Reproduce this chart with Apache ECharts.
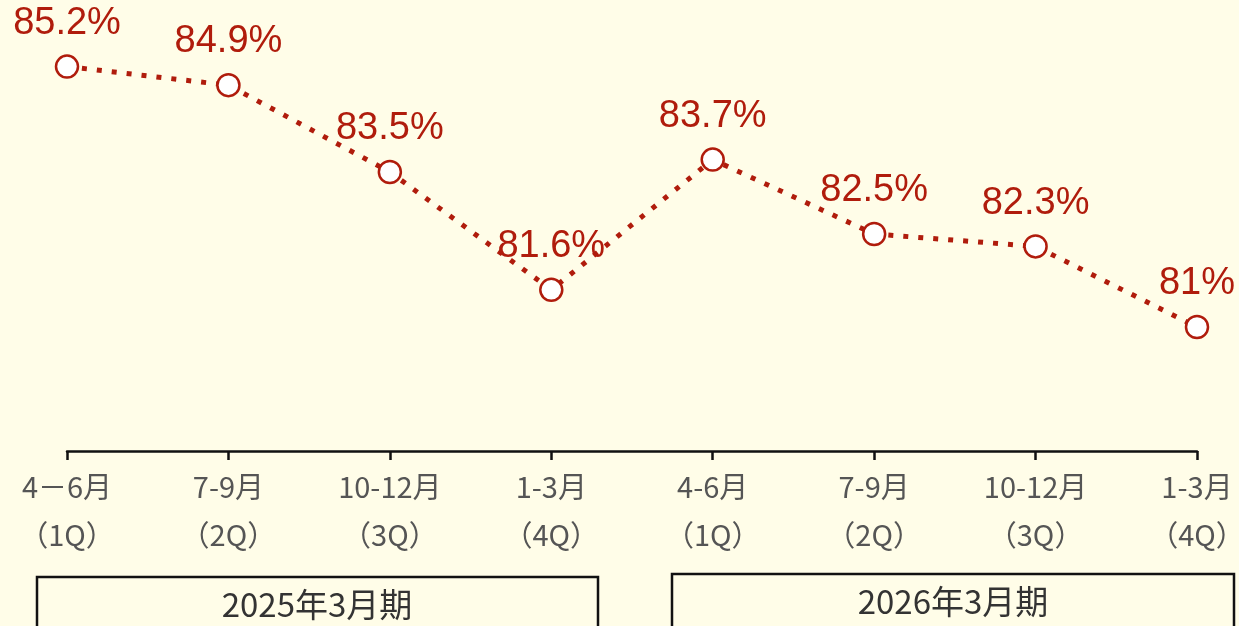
<!DOCTYPE html>
<html><head><meta charset="utf-8">
<script src="https://cdn.jsdelivr.net/npm/echarts@6/dist/echarts.min.js"></script>
<style>html,body{margin:0;padding:0;background:#FFFDE8;}#c{width:1239px;height:626px;}</style>
</head><body><div id="c"></div>
<script>
const categories = ['4－6月\n（1Q）','7-9月\n（2Q）','10-12月\n（3Q）','1-3月\n（4Q）','4-6月\n（1Q）','7-9月\n（2Q）','10-12月\n（3Q）','1-3月\n（4Q）'];
const values = [85.2, 84.9, 83.5, 81.6, 83.7, 82.5, 82.3, 81.0];
const periods = ['2025年3月期', '2026年3月期'];

const chart = echarts.init(document.getElementById('c'));
chart.setOption({
  backgroundColor: '#FFFDE8',
  animation: false,
  grid: {left: 67, right: 42, top: 17, bottom: 175, containLabel: false, outerBoundsMode: 'none'},
  xAxis: {
    type: 'category', data: categories, boundaryGap: false,
    axisLine: {lineStyle: {color: '#111', width: 2.5}},
    axisTick: {alignWithLabel: true, length: 9, lineStyle: {color: '#111', width: 2.5}},
    axisLabel: {color: '#555', fontSize: 29, lineHeight: 48, margin: 12, interval: 0,
      fontFamily: '"Noto Sans CJK JP", sans-serif'}
  },
  yAxis: {type: 'value', min: 79, max: 86, show: false, splitLine: {show: false}},
  series: [{
    type: 'line', data: values,
    symbol: 'circle', symbolSize: 22,
    itemStyle: {color: '#fff', borderColor: '#B01C0C', borderWidth: 2.5},
    lineStyle: {color: '#B01C0C', width: 5, type: [5, 10]},
    label: {show: true, position: 'top', distance: 12, color: '#B01C0C', fontSize: 38,
      fontFamily: '"Liberation Sans", Arial, sans-serif',
      formatter: p => (Number.isInteger(p.value) ? p.value : p.value.toFixed(1)) + '%'}
  }],
  graphic: [
    {type: 'rect', shape: {x: 37, y: 577, width: 561, height: 55}, style: {fill: 'transparent', stroke: '#111', lineWidth: 2.5}},
    {type: 'rect', shape: {x: 672, y: 574, width: 562, height: 58}, style: {fill: 'transparent', stroke: '#111', lineWidth: 2.5}},
    {type: 'text', x: 317, y: 604, style: {text: periods[0], fill: '#333', fontSize: 33, align: 'center', verticalAlign: 'middle', fontFamily: '"Noto Sans CJK JP", sans-serif'}},
    {type: 'text', x: 953, y: 601, style: {text: periods[1], fill: '#333', fontSize: 33, align: 'center', verticalAlign: 'middle', fontFamily: '"Noto Sans CJK JP", sans-serif'}}
  ]
});
</script></body></html>
